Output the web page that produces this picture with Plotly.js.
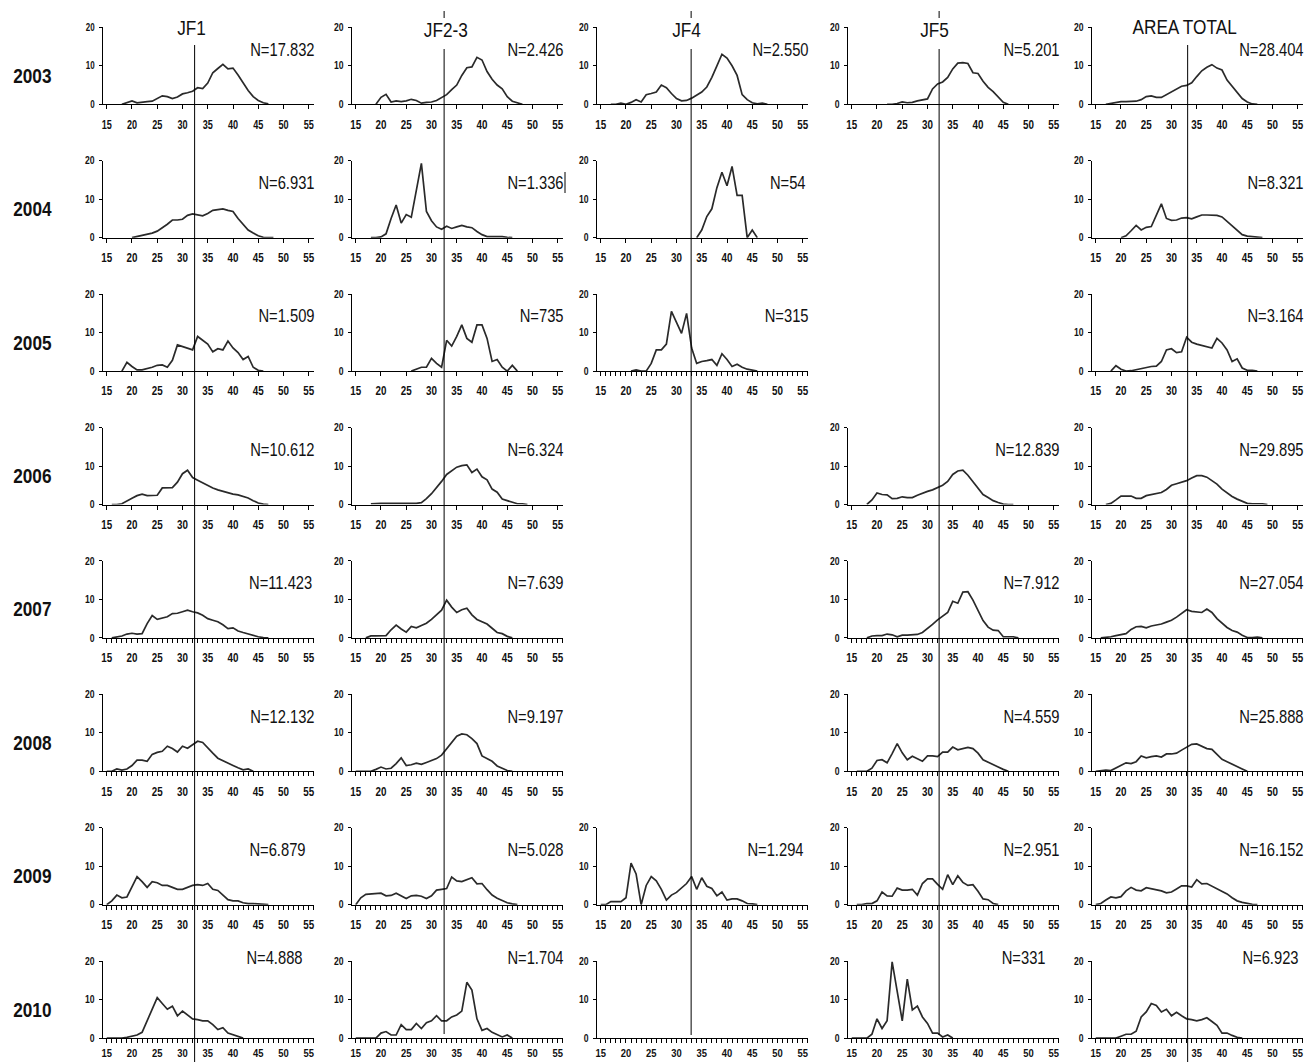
<!DOCTYPE html>
<html><head><meta charset="utf-8">
<script src="https://cdn.plot.ly/plotly-3.0.1.min.js"></script>
<style>html,body{margin:0;padding:0;background:#fff}#chart{width:1312px;height:1062px}</style>
</head><body><div id="chart"></div>
<script>
const _ = null;
const lengths = []; for (let L = 15; L <= 55; L++) lengths.push(L);
const years = ['2003','2004','2005','2006','2007','2008','2009','2010'];
const zones = ['JF1','JF2-3','JF4','JF5','AREA TOTAL'];
const xTicks = [15,20,25,30,35,40,45,50,55];
const yTicks = [0,10,20];
const refLine = [32.4, 32.5, 32.9, 32.3, 33.2];

// percentage by length class, index 0 = 15 cm
const JF1_2003 = [_,_,_,0,0.4,0.9,0.4,0.6,0.7,0.8,1.4,2.2,2.0,1.5,1.9,2.7,3.0,3.4,4.3,4.1,5.5,8.2,9.3,10.4,9.2,9.4,7.6,5.6,3.6,2.0,1.0,0.4,0.1];
const JF23_2003 = [_,_,_,_,0,1.8,2.6,0.6,0.9,0.7,0.9,1.3,1.0,0.3,0.5,0.6,1.0,1.7,2.5,3.8,5.0,7.5,9.5,9.7,12.2,11.5,8.5,6.5,5.0,4.0,2.0,0.8,0.3,0];
const JF4_2003 = [_,_,0,0,0.3,0,0.5,1.2,0.6,2.5,2.8,3.2,5.0,4.3,2.8,1.5,0.9,1.0,1.6,2.3,3.2,4.5,7.0,10.0,13.0,12.0,10.0,7.5,2.5,1.2,0.4,0.1,0.3,0];
const JF5_2003 = [_,_,_,_,_,_,_,0,0,0.2,0.6,0.4,0.5,0.9,1.1,1.4,4.0,5.3,5.8,7.0,9.2,10.7,10.8,10.6,8.2,8.0,6.0,4.4,3.3,1.8,0.5,0];
const TOT_2003 = [_,_,0,0.2,0.5,0.7,0.7,0.7,0.8,1.2,2.0,2.2,1.8,1.8,2.5,3.1,3.8,4.7,4.9,5.6,7.2,8.7,9.6,10.3,9.4,8.9,6.3,4.6,2.9,1.5,0.6,0.1,0];

const JF1_2004 = [_,_,_,_,_,0,0.3,0.6,0.9,1.2,1.7,2.5,3.5,4.6,4.6,4.8,5.8,6.2,6.0,5.7,6.3,7.1,7.3,7.5,7.1,6.8,5.0,3.4,2.0,1.2,0.5,0.1,0,0];
const JF23_2004 = [_,_,_,0,0,0.2,1.0,5.0,8.5,3.8,6.0,5.3,12.5,19.3,6.8,4.4,2.8,2.2,3.0,2.4,2.8,3.2,2.8,2.6,1.6,0.8,0.3,0.3,0.3,0.3,0.1,0];
const JF4_2004 = [_,_,_,_,_,_,_,_,_,_,_,_,_,_,_,_,_,_,_,0,2.0,5.5,7.5,13.0,17.0,13.5,18.5,11.0,11.0,0,2.0,0];
const TOT_2004 = [_,_,_,_,_,0,0.5,1.8,3.2,2.0,2.7,2.9,6.0,8.8,5.0,4.5,4.6,5.1,5.2,4.9,5.4,5.9,5.9,5.8,5.8,5.4,4.2,3.0,1.8,0.8,0.4,0.3,0.2,0];

const JF1_2005 = [_,_,_,0,2.3,1.2,0.3,0.3,0.6,1.0,1.5,1.6,1.0,2.8,6.8,6.3,5.8,5.5,9.0,8.0,7.0,5.0,5.8,5.5,7.8,6.0,4.8,3.0,3.8,1.0,0.2,0];
const JF23_2005 = [_,_,_,_,_,_,_,_,_,_,_,0,0.6,1.0,1.0,3.3,2.0,1.0,8.0,6.5,9.0,12.0,8.5,7.5,12.0,12.0,8.5,2.5,3.0,1.0,0,1.5,0];
const JF4_2005 = [_,_,_,_,_,_,0,0.3,0,0,2.0,5.5,5.5,7.0,15.5,12.5,9.8,15.0,6.0,2.0,2.5,2.7,3.0,1.5,4.5,3.0,1.2,1.8,1.0,0.5,0.2,0];
const TOT_2005 = [_,_,_,0,1.4,0.5,0,0.1,0.4,0.6,0.9,1.2,1.3,2.5,5.5,5.8,4.8,5.0,8.8,7.5,7.0,6.7,6.3,6.0,8.5,7.3,5.5,2.5,3.2,0.8,0.2,0.2,0];

const JF1_2006 = [_,0,0,0.2,0.8,1.6,2.3,2.7,2.3,2.3,2.4,4.3,4.4,4.4,5.8,8.0,8.9,7.0,6.3,5.6,5.0,4.3,3.8,3.4,3.0,2.7,2.5,2.2,1.7,1.0,0.4,0.1,0];
const JF23_2006 = [_,_,_,0.2,0.3,0.3,0.3,0.3,0.3,0.3,0.3,0.3,0.3,0.5,1.5,2.8,4.3,6.0,7.8,8.8,9.7,10.1,10.3,8.3,9.2,7.2,6.4,4.0,3.2,1.4,1.0,0.4,0.2,0.2,0];
const JF5_2006 = [_,_,_,0,1.2,3.0,2.6,2.5,1.5,1.6,2.0,1.8,1.8,2.4,3.0,3.4,3.8,4.3,5.0,6.0,7.8,8.7,8.9,7.6,5.9,4.0,2.6,1.8,1.0,0.5,0.1,0,0];
const TOT_2006 = [_,_,0,0.3,1.2,2.2,2.2,2.2,1.6,1.6,2.3,2.6,2.7,3.1,3.9,5.0,5.4,5.7,6.2,6.9,7.5,7.5,7.1,6.2,5.3,4.0,3.0,2.1,1.4,0.8,0.3,0.2,0.2,0.2,0];

const JF1_2007 = [_,0,0.2,0.5,1.0,1.2,1.0,1.1,3.7,5.8,4.8,5.1,5.5,6.3,6.4,6.8,7.2,6.8,6.5,5.9,5.0,4.6,4.2,3.4,2.4,2.6,1.8,1.4,1.0,0.7,0.3,0.1,0];
const JF23_2007 = [_,_,0,0.5,0.5,0.5,0.6,2.1,3.3,2.3,1.5,3.0,2.6,3.2,3.8,4.8,5.9,7.2,9.8,8.0,6.6,7.3,7.7,6.0,4.8,4.1,3.6,2.5,1.4,1.1,0.4,0];
const JF5_2007 = [_,_,_,0,0.5,0.6,0.6,1.0,0.8,0.3,0.7,0.7,0.8,0.9,1.4,2.4,3.5,4.7,5.6,6.6,9.5,9.0,11.9,12.0,9.8,7.0,4.5,2.8,2.0,1.9,0.3,0.3,0.3,0];
const TOT_2007 = [_,0,0.1,0.3,0.6,0.8,1.1,2.2,2.9,3.0,2.6,3.1,3.3,3.6,4.1,4.6,5.4,6.3,7.3,6.9,6.7,6.6,7.5,6.6,5.0,3.8,2.7,1.9,1.5,0.7,0.1,0.1,0.2,0];

const JF1_2008 = [0,0,0.6,0.3,0.6,1.5,2.9,2.9,2.6,4.4,4.9,5.2,6.5,5.9,5.0,6.5,6.0,6.8,7.8,7.5,6.0,4.7,3.4,2.7,2.0,1.5,0.9,0.4,0.6,0];
const JF23_2008 = [0,0,0,0,0.5,1.1,0.6,0.8,2.0,3.5,1.5,1.7,2.1,1.8,2.3,2.7,3.3,4.2,5.8,7.7,9.1,9.7,9.5,8.5,7.2,4.0,3.4,2.6,1.4,0.8,0.2,0];
const JF5_2008 = [_,0,0,0,0.8,2.8,3.0,2.2,4.6,7.2,4.8,3.0,3.9,3.2,2.6,4.0,4.0,3.8,5.0,5.0,6.3,5.6,5.9,6.2,5.9,4.7,3.0,2.3,1.6,1.1,0.5,0];
const TOT_2008 = [0,0.1,0.3,0.2,0.8,1.5,2.2,2.0,2.5,4.0,3.5,3.8,4.0,3.7,4.5,4.5,4.7,5.5,6.3,7.0,7.1,6.5,5.9,5.7,4.5,3.1,2.5,1.8,1.2,0.6,0];

const JF1_2009 = [0,1.0,2.5,1.8,2.0,4.5,7.3,6.0,4.5,6.0,5.7,5.0,5.0,4.5,4.0,4.0,4.5,5.0,5.2,5.0,5.5,4.0,3.7,2.5,1.3,1.0,1.0,0.5,0.3,0.3,0.2,0.2,0];
const JF23_2009 = [0,1.8,2.7,2.8,2.9,3.0,2.3,2.4,3.0,2.2,1.6,2.3,2.4,2.2,1.6,2.3,3.8,4.0,4.2,7.2,6.2,6.0,6.4,7.0,5.4,5.5,3.9,2.5,1.7,1.1,0.5,0.2,0];
const JF4_2009 = [0,0,0.8,0.8,0.8,1.8,10.8,8.0,0,5.0,7.3,6.2,4.0,1.2,2.5,3.2,4.3,5.5,7.3,4.0,7.0,4.8,4.2,2.3,3.3,1.2,1.5,1.5,1.0,0.3,0.2,0];
const JF5_2009 = [_,0,0,0.3,0.3,1.0,3.3,2.3,2.2,4.3,3.8,3.8,4.0,2.5,5.5,6.7,6.7,5.3,4.0,7.8,5.2,7.5,5.8,5.0,5.2,3.5,1.5,1.3,0.3,0];
const TOT_2009 = [0,0.3,1.2,2.0,1.8,2.1,3.6,4.5,3.8,3.6,4.4,4.1,3.9,3.6,3.1,3.3,4.1,4.9,4.9,4.6,6.5,5.4,5.5,4.8,4.2,3.6,2.8,1.8,1.0,0.6,0.3,0.1,0];

const JF1_2010 = [0,0,0,0,0.2,0.5,0.8,1.5,4.5,7.5,10.5,9.0,7.5,8.3,5.8,7.0,6.0,5.0,4.8,4.5,4.5,3.5,2.2,2.7,1.3,0.8,0.3,0];
const JF23_2010 = [0,0,0,0,0,1.3,1.7,0.8,0.8,3.5,2.2,2.2,3.8,2.5,4.0,4.5,5.8,4.5,4.5,5.5,6.0,7.0,14.5,12.5,5.0,2.0,2.5,1.5,1.0,0.3,0.8,0];
const JF4_2010 = [];
const JF5_2010 = [0,0,0,0,1.0,5.0,2.5,4.5,19.8,12.0,4.5,15.3,7.3,8.3,5.5,3.8,1.3,1.3,0.3,0.8,0];
const TOT_2010 = [0,0,0,0,0,0.5,1.0,1.0,1.8,5.5,6.8,9.0,8.5,6.8,7.5,5.8,6.7,5.8,5.0,4.8,4.5,4.8,5.3,4.3,3.3,1.3,1.3,0.7,0.2,0];

const grid = [
  [JF1_2003, JF23_2003, JF4_2003, JF5_2003, TOT_2003],
  [JF1_2004, JF23_2004, JF4_2004, null,     TOT_2004],
  [JF1_2005, JF23_2005, JF4_2005, null,     TOT_2005],
  [JF1_2006, JF23_2006, null,     JF5_2006, TOT_2006],
  [JF1_2007, JF23_2007, null,     JF5_2007, TOT_2007],
  [JF1_2008, JF23_2008, null,     JF5_2008, TOT_2008],
  [JF1_2009, JF23_2009, JF4_2009, JF5_2009, TOT_2009],
  [JF1_2010, JF23_2010, JF4_2010, JF5_2010, TOT_2010]
];
const nLabels = [
  ['N=17.832','N=2.426','N=2.550','N=5.201','N=28.404'],
  ['N=6.931','N=1.336','N=54',null,'N=8.321'],
  ['N=1.509','N=735','N=315',null,'N=3.164'],
  ['N=10.612','N=6.324',null,'N=12.839','N=29.895'],
  ['N=11.423','N=7.639',null,'N=7.912','N=27.054'],
  ['N=12.132','N=9.197',null,'N=4.559','N=25.888'],
  ['N=6.879','N=5.028','N=1.294','N=2.951','N=16.152'],
  ['N=4.888','N=1.704','','N=331','N=6.923']
];

// ---- layout geometry (pixels) ----
const W = 1312, H = 1062;
const colLeft = [102.7, 351.7, 596.7, 847.7, 1091.7];
const plotW = 211.1, plotH = 77;
const base0 = 104.3, rowStep = 133.4;
const FONT = "'Liberation Sans', Arial, sans-serif";
const TEXT_SCALE = 0.82;  // Arial Narrow ≈ Arial compressed horizontally
const TICK_SCALE = 0.76;
const nShift = {'0,6':-9, '0,7':-12, '2,6':-5, '3,7':-14, '4,7':-5, '0,4':-3, '2,1':-3};

const traces = [];
const layout = {
  width: W, height: H, autosize: false,
  margin: {l:0, r:0, t:0, b:0},
  paper_bgcolor: '#fff', plot_bgcolor: 'rgba(0,0,0,0)',
  showlegend: false, annotations: [], shapes: []
};

let k = 0;
const firstAxis = [];
for (let r = 0; r < years.length; r++) {
  const base = base0 + rowStep * r;
  const last = r === years.length - 1;
  for (let c = 0; c < zones.length; c++) {
    const vals = grid[r][c];
    if (vals === null) continue;
    k++;
    if (r === 0) firstAxis[c] = k;
    const xa = 'xaxis' + (k === 1 ? '' : k), ya = 'yaxis' + (k === 1 ? '' : k);
    const xs = 'x' + (k === 1 ? '' : k), ys = 'y' + (k === 1 ? '' : k);
    const minor = (r >= 4) || (r === 2 && c === 2);
    layout[xa] = {
      domain: [colLeft[c] / W, (colLeft[c] + plotW) / W],
      range: [14.2, 56], anchor: ys, fixedrange: true,
      tickmode: 'array', tickvals: xTicks, ticktext: xTicks.map(String),
      ticks: 'outside', ticklen: 4, tickwidth: 1, tickcolor: '#000',
      showline: true, linecolor: '#000', linewidth: 1,
      showgrid: false, zeroline: false, ticklabelstandoff: last ? 0 : 5,
      tickfont: {family: FONT, size: last ? 11.5 : 12, color: '#111', weight: 'bold'},
      minor: minor ? {tickmode: 'linear', tick0: 15, dtick: 1, ticks: 'outside', ticklen: 4, tickwidth: 1, tickcolor: '#000', showgrid: false} : undefined
    };
    layout[ya] = {
      domain: [1 - base / H, 1 - (base - plotH) / H],
      range: [0, 20], anchor: xs, fixedrange: true,
      tickmode: 'array', tickvals: yTicks, ticktext: yTicks.map(String),
      ticks: 'outside', ticklen: 3, tickwidth: 1, tickcolor: '#000',
      showline: true, linecolor: '#000', linewidth: 1,
      showgrid: false, zeroline: false, ticklabelstandoff: 2,
      tickfont: {family: FONT, size: 10.5, color: '#111', weight: 'bold'}
    };
    traces.push({
      type: 'scatter', mode: 'lines', xaxis: xs, yaxis: ys,
      x: lengths.slice(0, vals.length), y: vals,
      line: {color: '#2a2a2a', width: 1.7}, hoverinfo: 'skip', connectgaps: false
    });
    const lab = nLabels[r][c];
    if (lab) {
      const sh = nShift[c + ',' + r] || 0;
      layout.annotations.push({
        text: lab, xref: xs + ' domain', yref: ys + ' domain',
        x: 1 + (3 + sh) / plotW, xanchor: 'right', align: 'right',
        y: last ? 1.04 : 0.71, yanchor: 'middle', showarrow: false,
        font: {family: FONT, size: 18, color: '#111'}
      });
    }
  }
  layout.annotations.push({
    text: '<b>' + years[r] + '</b>', xref: 'paper', yref: 'paper',
    x: 32 / W, y: 1 - (base - 29) / H, xanchor: 'center', yanchor: 'middle',
    showarrow: false, font: {family: FONT, size: 21, color: '#111'}
  });
}

// column titles
const titleX = [191, 446, 686, 934, 1184];
const titleY = [27, 30, 30, 30, 26];
zones.forEach((z, c) => {
  layout.annotations.push({
    text: z, xref: 'paper', yref: 'paper', x: titleX[c] / W, y: 1 - titleY[c] / H,
    xanchor: 'center', yanchor: 'middle', showarrow: false,
    font: {family: FONT, size: 21, color: '#111'}
  });
});

// vertical reference lines through each column
const lineTop = [45, 49, 49, 49, 45];
const lineBot = [1062, 1034, 1035, 1035, 1062];
zones.forEach((z, c) => {
  const xr = 'x' + (firstAxis[c] === 1 ? '' : firstAxis[c]);
  layout.shapes.push({type: 'line', xref: xr, yref: 'paper', x0: refLine[c], x1: refLine[c],
    y0: 1 - lineTop[c] / H, y1: 1 - lineBot[c] / H, line: {color: '#000', width: 1}});
  if (c >= 1 && c <= 3) {
    layout.shapes.push({type: 'line', xref: xr, yref: 'paper', x0: refLine[c], x1: refLine[c],
      y0: 1 - 11 / H, y1: 1 - 18 / H, line: {color: '#000', width: 1}});
  }
});
// stray cursor mark after N=1.336
layout.shapes.push({type: 'line', xref: 'paper', yref: 'paper', x0: 565 / W, x1: 565 / W,
  y0: 1 - 172 / H, y1: 1 - 193 / H, line: {color: '#000', width: 1}});

// compress every text horizontally around its anchor to imitate a narrow face
function narrowTexts(gd) {
  gd.querySelectorAll('svg text').forEach(t => {
    if (!t.textContent) return;
    let bb; try { bb = t.getBBox(); } catch (e) { return; }
    if (!bb || !bb.width) return;
    const isTick = !!t.closest('.xtick, .ytick');
    const s = isTick ? TICK_SCALE : TEXT_SCALE;
    const anchor = t.getAttribute('text-anchor') || 'start';
    const ax = anchor === 'end' ? bb.x + bb.width : anchor === 'middle' ? bb.x + bb.width / 2 : bb.x;
    const prev = t.getAttribute('transform') || '';
    t.setAttribute('transform', prev + ` translate(${ax},0) scale(${s},1) translate(${-ax},0)`);
  });
}

Plotly.newPlot('chart', traces, layout, {staticPlot: true, displayModeBar: false})
  .then(gd => narrowTexts(gd));
</script>
</body></html>
